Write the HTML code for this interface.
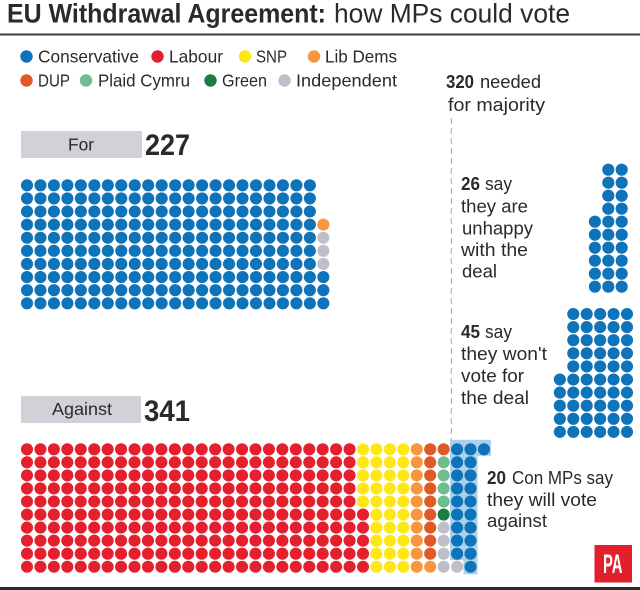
<!DOCTYPE html>
<html lang="en">
<head>
<meta charset="utf-8">
<title>EU Withdrawal Agreement: how MPs could vote</title>
<style>
  html, body { margin: 0; padding: 0; background: #fff; }
  svg { display: block; }
  text { font-family: "Liberation Sans", sans-serif; fill: #2a2a2c; }
  .t { font-size: 18px; }
  .l { font-size: 17.5px; }
  .b { font-size: 18px; font-weight: 700; }
</style>
</head>
<body>
<svg id="chart" xmlns="http://www.w3.org/2000/svg" width="640" height="590" viewBox="0 0 640 590">
  <rect width="640" height="590" fill="#ffffff"/>

  <text x="7" y="22.5" font-size="27" font-weight="700" textLength="319" lengthAdjust="spacingAndGlyphs">EU Withdrawal Agreement:</text>
  <text x="334" y="22.5" font-size="27" textLength="236" lengthAdjust="spacingAndGlyphs">how MPs could vote</text>
  <rect x="0" y="33.5" width="640" height="2" fill="#3f3f41"/>

  <g>
    <circle cx="26.5" cy="56.5" r="6.2" fill="#0e73b9"/>
    <text class="l" x="38" y="62.5" textLength="101" lengthAdjust="spacingAndGlyphs">Conservative</text>
    <circle cx="157.5" cy="56.5" r="6.2" fill="#e5202e"/>
    <text class="l" x="169" y="62.5" textLength="54" lengthAdjust="spacingAndGlyphs">Labour</text>
    <circle cx="245" cy="56.5" r="6.2" fill="#fde816"/>
    <text class="l" x="256" y="62.5" textLength="31" lengthAdjust="spacingAndGlyphs">SNP</text>
    <circle cx="314" cy="56.5" r="6.2" fill="#f7963f"/>
    <text class="l" x="325" y="62.5" textLength="72" lengthAdjust="spacingAndGlyphs">Lib Dems</text>

    <circle cx="26.5" cy="80.5" r="6.2" fill="#e05a26"/>
    <text class="l" x="38" y="86.5" textLength="32" lengthAdjust="spacingAndGlyphs">DUP</text>
    <circle cx="86" cy="80.5" r="6.2" fill="#6fbd8e"/>
    <text class="l" x="98" y="86.5" textLength="92" lengthAdjust="spacingAndGlyphs">Plaid Cymru</text>
    <circle cx="210.5" cy="80.5" r="6.2" fill="#17803f"/>
    <text class="l" x="222" y="86.5" textLength="45" lengthAdjust="spacingAndGlyphs">Green</text>
    <circle cx="284.5" cy="80.5" r="6.2" fill="#bfbecb"/>
    <text class="l" x="296" y="86.5" textLength="101" lengthAdjust="spacingAndGlyphs">Independent</text>
  </g>

  <rect x="21" y="131" width="121" height="27" fill="#d1d1d8"/>
  <text class="l" x="68" y="150.5" textLength="26" lengthAdjust="spacingAndGlyphs">For</text>
  <text x="145" y="155" font-size="30" font-weight="700" textLength="45" lengthAdjust="spacingAndGlyphs">227</text>

  <rect x="21" y="396" width="120" height="27" fill="#d1d1d8"/>
  <text class="l" x="52" y="415" textLength="60" lengthAdjust="spacingAndGlyphs">Against</text>
  <text x="144" y="421" font-size="30" font-weight="700" textLength="46" lengthAdjust="spacingAndGlyphs">341</text>

  <line x1="451.3" y1="118" x2="451.3" y2="441" stroke="#a9a9ac" stroke-width="1" stroke-dasharray="6 4"/>

  <g id="highlight-layer"></g>
  <g id="dot-layer"></g>

  <g>
    <text class="b" x="446" y="88" textLength="28" lengthAdjust="spacingAndGlyphs">320</text>
    <text class="t" x="480" y="88" textLength="61" lengthAdjust="spacingAndGlyphs">needed</text>
    <text class="t" x="448" y="111" textLength="97" lengthAdjust="spacingAndGlyphs">for majority</text>
  </g>

  <g>
    <text class="b" x="461" y="190" textLength="19" lengthAdjust="spacingAndGlyphs">26</text>
    <text class="t" x="485" y="190" textLength="27" lengthAdjust="spacingAndGlyphs">say</text>
    <text class="t" x="461" y="212.5" textLength="67" lengthAdjust="spacingAndGlyphs">they are</text>
    <text class="t" x="462" y="234.5" textLength="71" lengthAdjust="spacingAndGlyphs">unhappy</text>
    <text class="t" x="461" y="256" textLength="67" lengthAdjust="spacingAndGlyphs">with the</text>
    <text class="t" x="462" y="277.5" textLength="35" lengthAdjust="spacingAndGlyphs">deal</text>
  </g>

  <g>
    <text class="b" x="461" y="338" textLength="19" lengthAdjust="spacingAndGlyphs">45</text>
    <text class="t" x="485" y="338" textLength="27" lengthAdjust="spacingAndGlyphs">say</text>
    <text class="t" x="461" y="360" textLength="86" lengthAdjust="spacingAndGlyphs">they won't</text>
    <text class="t" x="461" y="382" textLength="63" lengthAdjust="spacingAndGlyphs">vote for</text>
    <text class="t" x="461" y="404" textLength="68" lengthAdjust="spacingAndGlyphs">the deal</text>
  </g>

  <g>
    <text class="b" x="487" y="484" textLength="19" lengthAdjust="spacingAndGlyphs">20</text>
    <text class="t" x="512" y="484" textLength="101" lengthAdjust="spacingAndGlyphs">Con MPs say</text>
    <text class="t" x="487" y="506" textLength="110" lengthAdjust="spacingAndGlyphs">they will vote</text>
    <text class="t" x="487" y="527" textLength="60" lengthAdjust="spacingAndGlyphs">against</text>
  </g>

  <g>
    <rect x="594.5" y="545" width="37.5" height="37.5" fill="#e1202c"/>
    <text x="603" y="573" font-size="27" font-weight="700" textLength="19.5" lengthAdjust="spacingAndGlyphs" style="fill:#ffffff">PA</text>
  </g>

  <rect x="0" y="587" width="640" height="3" fill="#2b2b2d"/>
</svg>

<script>
// Seat runs, in the order the dots fill each column from the bottom up.
const forParties = ['Conservative', 'Independent', 'Lib Dems'];
const forSeats = [223, 3, 1];

const againstParties = ['Labour', 'SNP', 'Lib Dems', 'DUP', 'Independent', 'Green', 'Plaid Cymru', 'DUP', 'Independent', 'Conservative'];
const againstSeats = [255, 35, 11, 9, 4, 1, 4, 1, 1, 20];

const unhappyParties = ['Conservative'];
const unhappySeats = [26];

const wontVoteParties = ['Conservative'];
const wontVoteSeats = [55];

const partyColours = {
  'Conservative': '#0e73b9',
  'Labour': '#e5202e',
  'SNP': '#fde816',
  'Lib Dems': '#f7963f',
  'DUP': '#e05a26',
  'Plaid Cymru': '#6fbd8e',
  'Green': '#17803f',
  'Independent': '#bfbecb'
};

const SVG_NS = 'http://www.w3.org/2000/svg';
const dotLayer = document.getElementById('dot-layer');
const highlightLayer = document.getElementById('highlight-layer');

function drawWaffle(name, parties, seats, opts) {
  const xAt = function (col) { return opts.x0 + col * opts.dx; };
  const yAt = function (row) { return opts.y0 + row * opts.dy; };
  const total = seats.reduce(function (a, b) { return a + b; }, 0);
  const lastCol = Math.floor((total - 1) / opts.rows);
  let index = 0;
  parties.forEach(function (party, p) {
    for (let i = 0; i < seats[p]; i++) {
      const col = Math.floor(index / opts.rows);
      const slot = index % opts.rows;
      // A partly filled final column can hang from the top instead of the bottom.
      const row = (opts.hangLast && col === lastCol) ? slot : opts.rows - 1 - slot;
      const cx = xAt(col);
      const cy = yAt(row);
      if (opts.highlight === party) {
        const cell = document.createElementNS(SVG_NS, 'rect');
        const extra = row === 0 ? 3 : 0;
        cell.setAttribute('x', cx - 7);
        cell.setAttribute('y', cy - opts.dy / 2 - extra);
        cell.setAttribute('width', 14);
        cell.setAttribute('height', opts.dy + extra + (row === opts.rows - 1 ? 1 : 0));
        cell.setAttribute('fill', '#a9d1ec');
        
        
        highlightLayer.appendChild(cell);
      }
      const dot = document.createElementNS(SVG_NS, 'circle');
      dot.setAttribute('cx', cx);
      dot.setAttribute('cy', cy);
      dot.setAttribute('r', 6.05);
      dot.setAttribute('fill', partyColours[party]);
      
      
      dotLayer.appendChild(dot);
      index++;
    }
  });
}

drawWaffle('for', forParties, forSeats, { x0: 27, dx: 13.47, y0: 185.3, dy: 13.11, rows: 10 });
drawWaffle('against', againstParties, againstSeats, { x0: 27, dx: 13.44, y0: 449.3, dy: 13.05, rows: 10, hangLast: true, highlight: 'Conservative' });
drawWaffle('unhappy', unhappyParties, unhappySeats, { x0: 621.7, dx: -13.4, y0: 169.7, dy: 13, rows: 10 });
drawWaffle('wont-vote', wontVoteParties, wontVoteSeats, { x0: 627, dx: -13.43, y0: 314, dy: 13.1, rows: 10 });
</script>
</body>
</html>
